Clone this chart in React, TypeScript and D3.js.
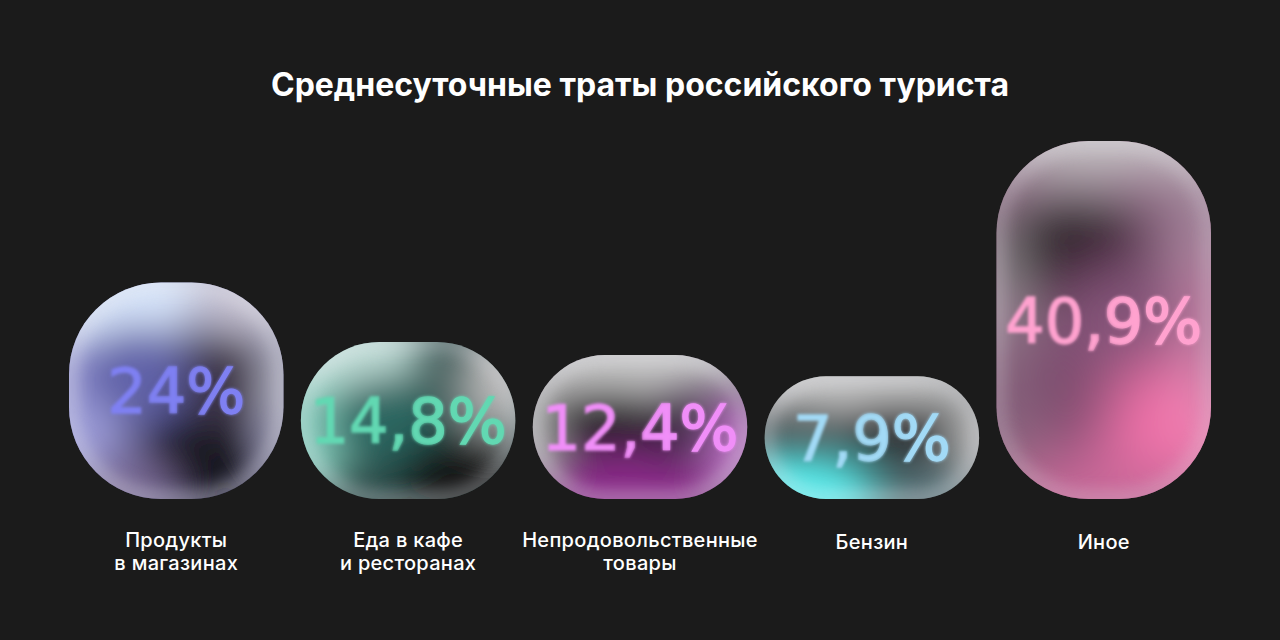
import React from "react";
import * as d3 from "d3";

const title = "Среднесуточные траты российского туриста";
const categories = [
  "Продукты в магазинах",
  "Еда в кафе и ресторанах",
  "Непродовольственные товары",
  "Бензин",
  "Иное",
];
const labelLines = [
  ["Продукты", "в магазинах"],
  ["Еда в кафе", "и ресторанах"],
  ["Непродовольственные", "товары"],
  ["Бензин"],
  ["Иное"],
];
const values = [24, 14.8, 12.4, 7.9, 40.9];
const valueLabels = ["24%", "14,8%", "12,4%", "7,9%", "40,9%"];

type Blob = { x: number; y: number; rx: number; ry: number; c: string };
const palettes: { base: string; text: string; rim: number; blur: number; blobs: Blob[] }[] = [
  {
    base: "#4a4670",
    text: "#7f80f2",
    rim: 0.5,
    blur: 20,
    blobs: [
      { x: 0.12, y: 0.02, rx: 0.55, ry: 0.3, c: "#d8e6fb" },
      { x: 0.85, y: 0.05, rx: 0.3, ry: 0.2, c: "#c8c4d4" },
      { x: 0.0, y: 0.62, rx: 0.28, ry: 0.38, c: "#9c9cd8" },
      { x: 0.33, y: 0.42, rx: 0.28, ry: 0.22, c: "#6062a8" },
      { x: 0.6, y: 0.82, rx: 0.26, ry: 0.22, c: "#18181a" },
      { x: 0.72, y: 0.45, rx: 0.2, ry: 0.22, c: "#3c3646" },
      { x: 1.0, y: 0.5, rx: 0.1, ry: 0.4, c: "#b4b4c4" },
      { x: 0.25, y: 0.95, rx: 0.25, ry: 0.15, c: "#7a6a96" },
    ],
  },
  {
    base: "#2c4846",
    text: "#62d8b2",
    rim: 0.45,
    blur: 20,
    blobs: [
      { x: 0.03, y: 0.5, rx: 0.22, ry: 0.5, c: "#86cfbe" },
      { x: 0.2, y: 0.02, rx: 0.4, ry: 0.25, c: "#c4e2dc" },
      { x: 0.4, y: 0.5, rx: 0.28, ry: 0.3, c: "#2c6660" },
      { x: 0.92, y: 0.25, rx: 0.2, ry: 0.35, c: "#b4b4b4" },
      { x: 0.75, y: 0.85, rx: 0.3, ry: 0.28, c: "#151515" },
    ],
  },
  {
    base: "#36263c",
    text: "#f08ef8",
    rim: 0.5,
    blur: 20,
    blobs: [
      { x: 0.45, y: 0.0, rx: 0.6, ry: 0.28, c: "#c8c8c8" },
      { x: 0.0, y: 0.45, rx: 0.18, ry: 0.4, c: "#b0b0b0" },
      { x: 0.35, y: 0.45, rx: 0.3, ry: 0.22, c: "#221a24" },
      { x: 0.45, y: 0.98, rx: 0.5, ry: 0.3, c: "#8c2a8a" },
      { x: 0.96, y: 0.62, rx: 0.18, ry: 0.38, c: "#b46cbc" },
    ],
  },
  {
    base: "#3c4042",
    text: "#a2daf6",
    rim: 0.5,
    blur: 20,
    blobs: [
      { x: 0.3, y: 0.0, rx: 0.7, ry: 0.3, c: "#c8c8c8" },
      { x: 0.62, y: 0.42, rx: 0.3, ry: 0.22, c: "#2c2e30" },
      { x: 0.12, y: 1.0, rx: 0.42, ry: 0.4, c: "#56ecec" },
      { x: 1.0, y: 0.5, rx: 0.14, ry: 0.4, c: "#b4b4b4" },
      { x: 0.8, y: 0.95, rx: 0.25, ry: 0.2, c: "#5a7c82" },
    ],
  },
  {
    base: "#7a4a6c",
    text: "#ffa2cf",
    rim: 0.35,
    blur: 30,
    blobs: [
      { x: 0.5, y: -0.02, rx: 0.7, ry: 0.12, c: "#d0d0d0" },
      { x: 0.0, y: 0.4, rx: 0.1, ry: 0.25, c: "#a8a8a8" },
      { x: 0.36, y: 0.3, rx: 0.34, ry: 0.16, c: "#2a2028" },
      { x: 0.98, y: 0.25, rx: 0.2, ry: 0.16, c: "#a88ca0" },
      { x: 0.62, y: 0.5, rx: 0.35, ry: 0.16, c: "#86547a" },
      { x: 0.85, y: 0.82, rx: 0.38, ry: 0.2, c: "#f472aa" },
      { x: 0.45, y: 1.0, rx: 0.5, ry: 0.14, c: "#c86898" },
      { x: 0.05, y: 0.82, rx: 0.15, ry: 0.15, c: "#8c6c82" },
      { x: 1.0, y: 0.62, rx: 0.1, ry: 0.3, c: "#e090b8" },
    ],
  },
];

const W = 1280;
const H = 640;
const BOTTOM = 499;

export default function App() {
  const x = d3
    .scaleBand<string>()
    .domain(categories)
    .range([69, 1211])
    .paddingInner(0.075)
    .paddingOuter(0);
  const h = d3.scalePow().exponent(1.5).domain([0, 40.9]).range([101, 358]);
  const numFont = "'DejaVu Sans', sans-serif";
  const numSize = 62;

  return (
    <svg
      width={W}
      height={H}
      style={{ position: "fixed", left: 0, top: 0, background: "#1b1b1b" }}
    >
      <defs>
        <filter id="rimBlur" x="-50%" y="-50%" width="200%" height="200%">
          <feGaussianBlur stdDeviation="9" />
        </filter>
        <filter id="textBlur" x="-20%" y="-50%" width="140%" height="200%">
          <feGaussianBlur stdDeviation="1.6" />
        </filter>
        <linearGradient id="sharpGrad" x1="0" x2="1" y1="0" y2="0">
          <stop offset="0.3" stopColor="#fff" stopOpacity="0" />
          <stop offset="0.7" stopColor="#fff" stopOpacity="1" />
        </linearGradient>
      </defs>
      <rect width={W} height={H} fill="#1b1b1b" />
      <text
        x={640}
        y={96}
        textAnchor="middle"
        fill="#ffffff"
        fontFamily="Inter, sans-serif"
        fontWeight={700}
        fontSize={32}
      >
        {title}
      </text>
      {categories.map((cat, i) => {
        const bx = x(cat)!;
        const bw = x.bandwidth();
        const bh = h(values[i]);
        const by = BOTTOM - bh;
        const r = Math.min(bh / 2, 92);
        const p = palettes[i];
        const cx = bx + bw / 2;
        const cy = by + bh / 2;
        return (
          <g key={cat}>
            <defs>
              <clipPath id={`clip${i}`}>
                <rect x={bx} y={by} width={bw} height={bh} rx={r} ry={r} />
              </clipPath>
              <filter id={`blobBlur${i}`} x="-50%" y="-50%" width="200%" height="200%">
                <feGaussianBlur stdDeviation={p.blur} />
              </filter>
              <mask id={`mask${i}`} maskUnits="userSpaceOnUse" x={bx} y={by} width={bw} height={bh}>
                <rect x={bx} y={by} width={bw} height={bh} fill="url(#sharpGrad)" />
              </mask>
            </defs>
            <g clipPath={`url(#clip${i})`}>
              <rect x={bx - 40} y={by - 40} width={bw + 80} height={bh + 80} fill={p.base} />
              <g filter={`url(#blobBlur${i})`}>
                {p.blobs.map((b, j) => (
                  <ellipse
                    key={j}
                    cx={bx + b.x * bw}
                    cy={by + b.y * bh}
                    rx={b.rx * bw}
                    ry={b.ry * bh}
                    fill={b.c}
                  />
                ))}
              </g>
              <rect
                x={bx}
                y={by}
                width={bw}
                height={bh}
                rx={r}
                ry={r}
                fill="none"
                stroke="#e8e8ee"
                strokeWidth={14}
                opacity={p.rim}
                filter="url(#rimBlur)"
              />
            </g>
            <text
              x={cx}
              y={cy + numSize * 0.364}
              textAnchor="middle"
              fill={p.text}
              stroke={p.text}
              strokeWidth={1.3}
              fontFamily={numFont}
              fontSize={numSize}
              filter="url(#textBlur)"
            >
              {valueLabels[i]}
            </text>
            <text
              x={cx}
              y={cy + numSize * 0.364}
              textAnchor="middle"
              fill={p.text}
              stroke={p.text}
              strokeWidth={1.3}
              fontFamily={numFont}
              fontSize={numSize}
              mask={`url(#mask${i})`}
            >
              {valueLabels[i]}
            </text>
            {labelLines[i].map((line, k) => {
              const n = labelLines[i].length;
              const baseY = n === 1 ? 549 : 547 + k * 23;
              return (
                <text
                  key={k}
                  x={cx}
                  y={baseY}
                  textAnchor="middle"
                  fill="#ffffff"
                  fontFamily="Inter, sans-serif"
                  fontWeight={500}
                  fontSize={20}
                  letterSpacing={0.3}
                >
                  {line}
                </text>
              );
            })}
          </g>
        );
      })}
    </svg>
  );
}
